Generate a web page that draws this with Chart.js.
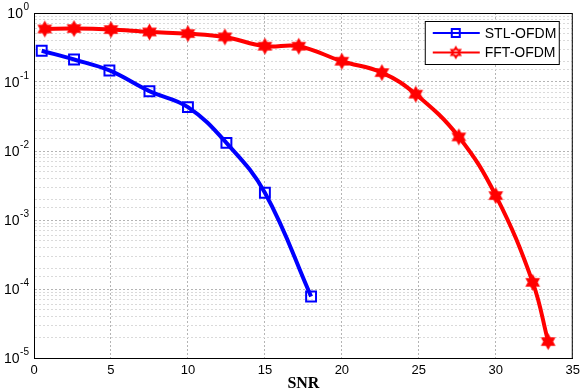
<!DOCTYPE html>
<html>
<head>
<meta charset="utf-8">
<script src="https://cdn.jsdelivr.net/npm/chart.js@4.4.1/dist/chart.umd.min.js"></script>
<style>
    html, body { margin: 0; padding: 0; background: #fff; }
    #wrap { width: 585px; height: 390px; position: relative; }
</style>
</head>
<body>
<div id="wrap"><canvas id="berChart"></canvas></div>
<script>
// values
const stlSnr = [0.5, 2.6, 4.9, 7.5, 10, 12.5, 15, 18];
const stlBer = [0.284, 0.212, 0.147, 0.0736, 0.0432, 0.0131, 0.00248, 7.8e-5];
const fftSnr = [0.7, 2.6, 5, 7.5, 10, 12.4, 15, 17.2, 20, 22.6, 24.8, 27.6, 30, 32.4, 33.4];
const fftBer = [0.587, 0.594, 0.575, 0.531, 0.503, 0.450, 0.330, 0.330, 0.200, 0.137, 0.0666, 0.0160, 0.00226, 1.25e-4, 1.73e-5];
const seriesNames = ['STL-OFDM', 'FFT-OFDM'];
const xTicks = [0, 5, 10, 15, 20, 25, 30, 35];
const yExponents = [0, -1, -2, -3, -4, -5];
const xTitle = 'SNR';

const BLUE = '#0000ff';
const RED = '#ff0000';

// MATLAB style hexagram marker
function hexagram(color, r, lw, filled) {
    const s = Math.ceil(r * 2 + lw * 2 + 2);
    const c = document.createElement('canvas');
    c.width = c.height = s;
    const g = c.getContext('2d');
    g.translate(s / 2, s / 2);
    g.beginPath();
    for (let i = 0; i < 12; i++) {
        const a = -Math.PI / 2 + i * Math.PI / 6;
        const rr = i % 2 === 0 ? r : r * 0.577;
        g.lineTo(rr * Math.cos(a), rr * Math.sin(a));
    }
    g.closePath();
    if (filled) {
        g.fillStyle = color;
        g.fill();
    }
    g.lineWidth = lw;
    g.strokeStyle = color;
    g.stroke();
    return c;
}
const starMarker = hexagram(RED, 6, 2.5, true);
const starLegend = hexagram(RED, 5, 2, false);

const isDecade = v => Math.abs(Math.log10(v) - Math.round(Math.log10(v))) < 1e-9;

// frame, y labels with superscripts, legend
const decorations = {
    id: 'decorations',
    afterDraw(chart) {
        const ctx = chart.ctx;
        const area = chart.chartArea;
        const yScale = chart.scales.y;
        ctx.save();

        ctx.strokeStyle = '#000';
        ctx.lineWidth = 1;
        ctx.strokeRect(area.left + 0.5, area.top + 0.5, area.right - area.left - 1, area.bottom - area.top);

        // y tick labels 10^n
        ctx.fillStyle = '#000';
        ctx.textBaseline = 'middle';
        yExponents.forEach(e => {
            const y = yScale.getPixelForValue(Math.pow(10, e));
            const sup = String(e);
            ctx.font = '10px "Liberation Sans", Arial, sans-serif';
            const supW = ctx.measureText(sup).width;
            const right = area.left - 5;
            ctx.textAlign = 'left';
            ctx.fillText(sup, right - supW, y - 6);
            ctx.font = '14px "Liberation Sans", Arial, sans-serif';
            ctx.textAlign = 'right';
            ctx.fillText('10', right - supW - 0.5, y + 1);
        });

        // legend
        const bx = area.right - 148, by = area.top + 8, bw = 134, bh = 43;
        ctx.fillStyle = '#fff';
        ctx.fillRect(bx, by, bw, bh);
        ctx.strokeStyle = '#000';
        ctx.strokeRect(bx + 0.5, by + 0.5, bw, bh);
        chart.data.datasets.forEach((ds, i) => {
            const ly = by + 12 + i * 19.5;
            ctx.strokeStyle = ds.borderColor;
            ctx.lineWidth = 2;
            ctx.beginPath();
            ctx.moveTo(bx + 8, ly);
            ctx.lineTo(bx + 55, ly);
            ctx.stroke();
            const mx = bx + 31;
            if (i === 0) {
                ctx.strokeRect(mx - 4, ly - 4, 8, 8);
            } else {
                ctx.drawImage(starLegend, mx - starLegend.width / 2, ly - starLegend.height / 2);
            }
            ctx.fillStyle = '#000';
            ctx.font = '14px "Liberation Sans", Arial, sans-serif';
            ctx.textAlign = 'left';
            ctx.textBaseline = 'middle';
            ctx.fillText(ds.label, bx + 60, ly + 1);
        });
        ctx.restore();
    }
};

const ctx = document.getElementById('berChart').getContext('2d');
new Chart(ctx, {
    type: 'line',
    data: {
        datasets: [{
            label: seriesNames[0],
            data: stlSnr.map((x, i) => ({ x: x, y: stlBer[i] })),
            borderColor: BLUE,
            borderWidth: 4,
            backgroundColor: BLUE,
            fill: false,
            tension: 0.4,
            pointStyle: 'rect',
            pointRadius: 7,
            pointBorderWidth: 2,
            pointBorderColor: BLUE,
            pointBackgroundColor: 'rgba(0,0,0,0)'
        }, {
            label: seriesNames[1],
            data: fftSnr.map((x, i) => ({ x: x, y: fftBer[i] })),
            borderColor: RED,
            borderWidth: 4,
            backgroundColor: RED,
            fill: false,
            tension: 0.4,
            pointStyle: starMarker,
            pointRadius: 6
        }]
    },
    options: {
        responsive: true,
        maintainAspectRatio: false,
        animation: false,
        layout: { padding: { top: 13, right: 10, left: 0, bottom: 0 } },
        plugins: {
            legend: { display: false },
            tooltip: { enabled: false }
        },
        scales: {
            x: {
                type: 'linear',
                min: xTicks[0],
                max: xTicks[xTicks.length - 1],
                afterBuildTicks: s => { s.ticks = xTicks.map(v => ({ value: v })); },
                afterFit: s => { s.height = 32; },
                ticks: {
                    color: '#000',
                    padding: 5,
                    font: { family: '"Liberation Sans", Arial, sans-serif', size: 13 }
                },
                grid: { color: '#b4b4b4', drawTicks: false },
                border: { color: '#000', dash: [2, 2] },
                title: {
                    display: true,
                    text: xTitle,
                    color: '#000',
                    padding: { top: 0, bottom: -2 },
                    font: { family: '"Liberation Serif", "Times New Roman", serif', size: 16, weight: 'bold', lineHeight: 1 }
                }
            },
            y: {
                type: 'logarithmic',
                min: Math.pow(10, yExponents[yExponents.length - 1]),
                max: Math.pow(10, yExponents[0]),
                afterFit: s => { s.width = 34; },
                ticks: { display: false },
                grid: {
                    color: c => isDecade(c.tick.value) ? '#b4b4b4' : '#dadada',
                    drawTicks: false
                },
                border: { color: '#000', dash: [2, 2] }
            }
        }
    },
    plugins: [decorations]
});
</script>
</body>
</html>
